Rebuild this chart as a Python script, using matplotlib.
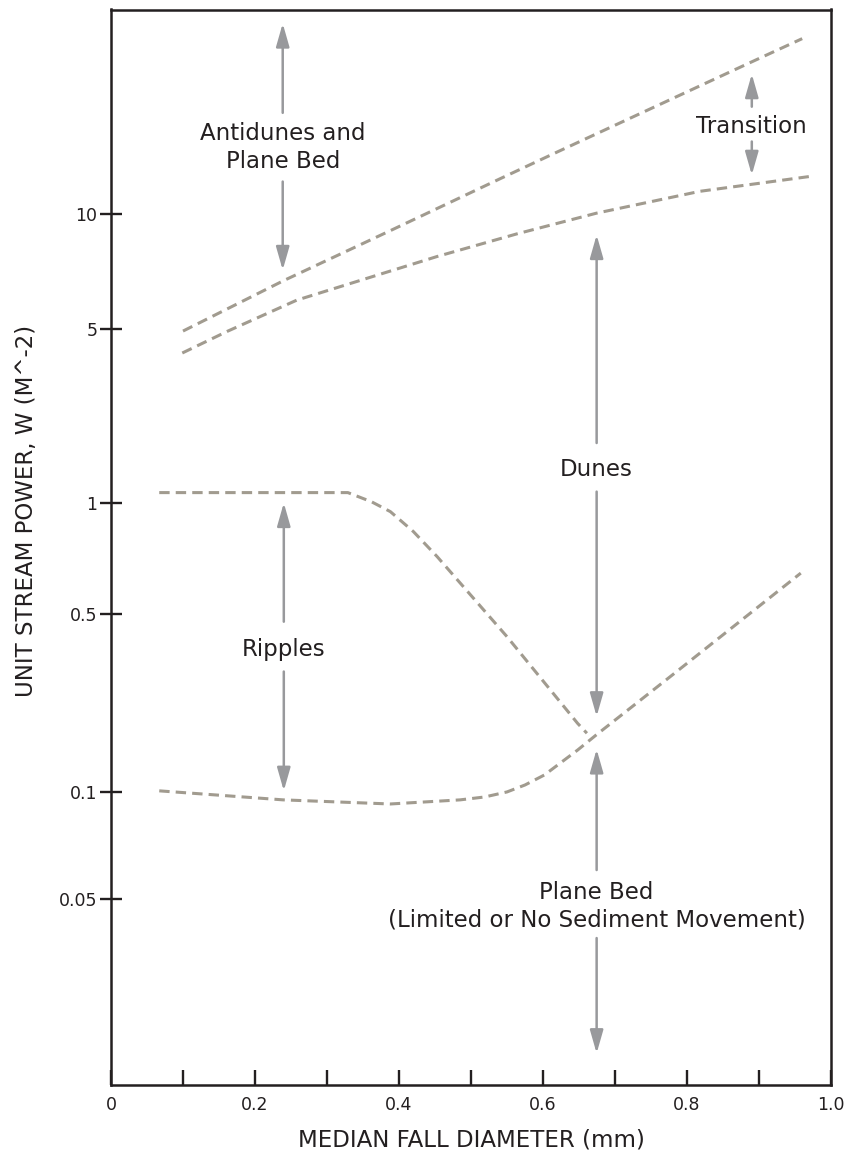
import numpy as np
import matplotlib
matplotlib.use('Agg')
import matplotlib.pyplot as plt
from matplotlib.ticker import FixedLocator, NullLocator

# boundary curves: median fall diameter (mm) against unit stream power W
antidune_d = [0.10, 0.24, 0.39, 0.54, 0.62, 0.89, 0.96]
antidune_w = [4.9, 6.7, 9.1, 12.4, 14.6, 25.2, 29.0]

dune_top_d = [0.099, 0.161, 0.258, 0.453, 0.564, 0.674, 0.818, 0.973]
dune_top_w = [4.0, 4.88, 5.95, 7.75, 8.89, 10.07, 11.5, 12.6]

ripple_top_d = [0.067, 0.329, 0.362, 0.388, 0.420, 0.453, 0.550, 0.648, 0.661]
ripple_top_w = [1.10, 1.10, 1.01, 0.947, 0.836, 0.715, 0.407, 0.186, 0.170]

ripple_low_d = [0.067, 0.239, 0.388, 0.485, 0.519, 0.550, 0.575, 0.602, 0.648,
                0.674, 0.777, 0.958]
ripple_low_w = [0.101, 0.095, 0.0925, 0.095, 0.0968, 0.100, 0.1065, 0.1166, 0.146,
                0.1675, 0.284, 0.645]

# bedform regions: label, where it sits, and its two arrows (start, tip)
region_names = ['Antidunes and\nPlane Bed', 'Transition', 'Dunes', 'Ripples',
                'Plane Bed\n(Limited or No Sediment Movement)']
region_d = [0.2385, 0.890, 0.6745, 0.240, 0.6745]
region_w = [15.0, 17.0, 1.36, 0.361, 0.0478]
arrow_up = [(18.5, 31.8), (19.2, 23.4), (1.74, 8.83), (0.466, 1.0), (0.0603, 0.147)]
arrow_down = [(12.2, 7.14), (15.55, 12.7), (1.11, 0.198), (0.297, 0.101), (0.0388, 0.01837)]

y_ticks = [0.05, 0.1, 0.5, 1, 5, 10]
y_labels = ['0.05', '0.1', '0.5', '1', '5', '10']
x_ticks = [0, 0.2, 0.4, 0.6, 0.8, 1.0]
x_labels = ['0', '0.2', '0.4', '0.6', '0.8', '1.0']
x_minor = [0.1, 0.3, 0.5, 0.7, 0.9]

# the printed W axis is not a true log axis, so the tick gaps are kept as knots
knot_log = np.log10([0.001, 0.05, 0.1, 0.5, 1, 5, 10, 100])
knot_pos = [-1502.1, -899, -792, -614, -503, -329, -214.5, 165.5]


def fwd(w):
    return np.interp(np.log10(np.clip(w, 1e-9, None)), knot_log, knot_pos)


def inv(p):
    return 10 ** np.interp(p, knot_pos, knot_log)


ink = '#231f20'
dash_col = '#a19b8f'
arrow_col = '#98999c'

plt.rcParams['font.family'] = ['DejaVu Sans']
plt.rcParams['text.color'] = ink

fig = plt.figure(figsize=(8.44, 11.51), dpi=100)
ax = fig.add_axes([111 / 844, 66 / 1151, 720 / 844, 1075.5 / 1151])
ax.set_yscale('function', functions=(fwd, inv))

for d, w in [(antidune_d, antidune_w), (dune_top_d, dune_top_w),
             (ripple_top_d, ripple_top_w), (ripple_low_d, ripple_low_w)]:
    ax.plot(d, w, color=dash_col, lw=2.2, dashes=(3.4, 2.0), solid_joinstyle='round')

arr = dict(arrowstyle='-|>,head_length=0.7,head_width=0.2', color=arrow_col,
           lw=1.8, shrinkA=0, shrinkB=0, mutation_scale=20)
for i, name in enumerate(region_names):
    x = region_d[i]
    ax.text(x, region_w[i], name, ha='center', va='center', fontsize=16.5,
            linespacing=1.25, color=ink)
    ax.annotate('', xy=(x, arrow_up[i][1]), xytext=(x, arrow_up[i][0]), arrowprops=arr)
    ax.annotate('', xy=(x, arrow_down[i][1]), xytext=(x, arrow_down[i][0]), arrowprops=arr)

ax.set_xlim(0, 1)
ax.set_ylim(0.01496, 34.6)

ax.set_xticks(x_ticks)
ax.set_xticklabels(x_labels)
ax.xaxis.set_minor_locator(FixedLocator(x_minor))
ax.yaxis.set_major_locator(FixedLocator(y_ticks))
ax.set_yticklabels(y_labels)
ax.yaxis.set_minor_locator(NullLocator())

ax.tick_params(axis='x', which='both', direction='in', length=10.8, width=1.7,
               color=ink, labelsize=12.5, pad=8, labelcolor=ink)
ax.tick_params(axis='y', direction='inout', length=15.5, width=1.7,
               color=ink, labelsize=12.5, pad=2, labelcolor=ink)
for s in ax.spines.values():
    s.set_linewidth(1.8)
    s.set_color(ink)

ax.set_xlabel('MEDIAN FALL DIAMETER (mm)', fontsize=16.5, color=ink)
ax.set_ylabel('UNIT STREAM POWER, W (M^-2)', fontsize=16.5, color=ink)
ax.xaxis.set_label_coords(0.5, -0.040)
ax.yaxis.set_label_coords(-0.101, 0.534)

fig.savefig('out.png', dpi=100)
